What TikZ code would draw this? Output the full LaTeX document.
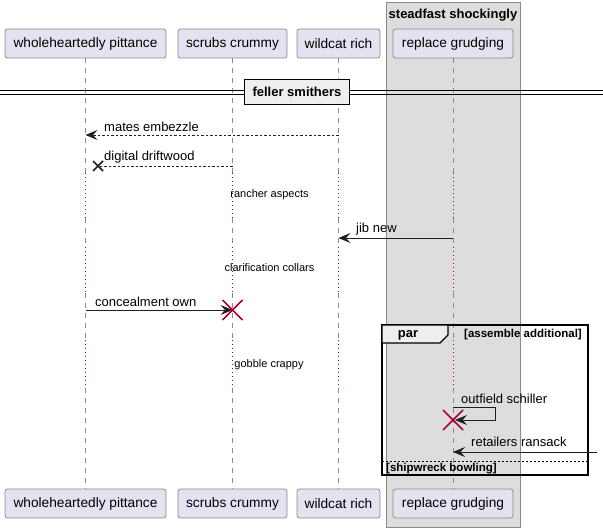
\documentclass[tikz,border=0pt]{standalone}
\usepackage{fontspec}
\setmainfont{Liberation Sans}
\usetikzlibrary{arrows.meta}
\definecolor{partfill}{HTML}{E2E2F0}
\definecolor{partdraw}{HTML}{8A8A8A}
\definecolor{grpfill}{HTML}{DDDDDD}
\definecolor{grpdraw}{HTML}{8A8A8A}
\definecolor{dlycol}{HTML}{A80036}
\definecolor{divfill}{HTML}{EEEEEE}
\definecolor{lifecol}{HTML}{8A8A8A}
\tikzset{
  part/.style={draw=partdraw, fill=partfill, rounded corners=2.5pt, minimum height=29pt, inner sep=0pt, line width=0.8pt, font=\fontsize{13.7}{15}\selectfont},
  life/.style={draw=lifecol, line width=0.8pt, dash pattern=on 5pt off 5pt},
  dly/.style={draw=dlycol, line width=1pt, dash pattern=on 1.2pt off 2.8pt},
  msg/.style={draw=black!88, line width=0.9pt, -{Stealth[length=12pt,width=10pt,inset=4.5pt]}},
  dmsg/.style={msg, dash pattern=on 2.5pt off 2pt},
  mlabel/.style={font=\fontsize{13}{15}\selectfont, inner sep=0pt, anchor=west},
  dlabel/.style={font=\fontsize{11}{13}\selectfont, inner sep=0pt},
  boldlabel/.style={font=\bfseries\fontsize{11.5}{13}\selectfont, inner sep=0pt},
  xmark/.style={line width=1.6pt},
}
\begin{document}
\begin{tikzpicture}[x=1pt,y=-1pt]
\useasboundingbox (0,0) rectangle (603,532);
% group box
\draw[draw=grpdraw, fill=grpfill, line width=0.8pt] (386,2) rectangle (520,527);
\node[font=\bfseries\fontsize{13}{15}\selectfont, inner sep=0pt] (grptitle) at (453,15) {steadfast shockingly};
% participants
\node[part, minimum width=161pt] (Twp) at (85.5,43.5) {wholeheartedly pittance};
\node[part, minimum width=109pt] (Tsc) at (232.5,43.5) {scrubs crummy};
\node[part, minimum width=83pt] (Twr) at (338.5,43.5) {wildcat rich};
\node[part, minimum width=120pt] (Trg) at (453,43.5) {replace grudging};
\node[part, minimum width=161pt] (Bwp) at (85.5,503.5) {wholeheartedly pittance};
\node[part, minimum width=109pt] (Bsc) at (232.5,503.5) {scrubs crummy};
\node[part, minimum width=83pt] (Bwr) at (338.5,503.5) {wildcat rich};
\node[part, minimum width=120pt] (Brg) at (453,503.5) {replace grudging};
% lifelines
\foreach \n in {wp,sc,wr,rg}{
  \draw[life] (T\n.south) -- (T\n.south |- 0,173);
  \draw[life] (T\n.south |- 0,218) -- (T\n.south |- 0,247);
  \draw[life] (T\n.south |- 0,293) -- (T\n.south |- 0,340);
  \draw[life] (T\n.south |- 0,388) -- (B\n.north);
  \draw[dly] (T\n.south |- 0,173) -- (T\n.south |- 0,218);
  \draw[dly] (T\n.south |- 0,247) -- (T\n.south |- 0,293);
  \draw[dly] (T\n.south |- 0,340) -- (T\n.south |- 0,388);
}
% divider
\draw[line width=0.9pt] (0,90) -- (603,90) (0,94) -- (603,94);
\node[draw, line width=1.6pt, fill=divfill, minimum width=105pt, minimum height=25pt, inner sep=0pt, font=\bfseries\fontsize{13}{15}\selectfont] (div) at (297,92) {feller smithers};
% message 1
\coordinate (m1s) at (Twr.south |- 0,135);
\coordinate (m1e) at (Twp.south |- 0,135);
\draw[dmsg] (m1s) -- (m1e);
\node[mlabel] (m1l) at (104,127) {mates embezzle};
% message 2 (destroyed end)
\coordinate (m2s) at (Tsc.south |- 0,166);
\coordinate (m2x) at (98,166);
\draw[draw=black!88, line width=0.9pt, dash pattern=on 2.5pt off 2pt] (m2s) -- (m2x);
\draw[xmark, draw=black!88] ([shift={(-5,-5)}]m2x) -- ([shift={(5,5)}]m2x) ([shift={(-5,5)}]m2x) -- ([shift={(5,-5)}]m2x);
\node[mlabel] (m2l) at (104,157) {digital driftwood};
% delay 1
\node[dlabel] (d1) at (269.5,195) {rancher aspects};
% message 3
\coordinate (m3s) at (Trg.south |- 0,238);
\coordinate (m3e) at (Twr.south |- 0,238);
\draw[msg] (m3s) -- (m3e);
\node[mlabel] (m3l) at (356,229) {jib new};
% delay 2
\node[dlabel] (d2) at (269.5,268) {clarification collars};
% message 4 with destroy
\coordinate (m4s) at (Twp.south |- 0,310);
\coordinate (m4e) at (Tsc.south |- 0,310);
\draw[msg] (m4s) -- (m4e);
\draw[xmark, draw=dlycol] ([shift={(-10,-10)}]m4e) -- ([shift={(10,10)}]m4e) ([shift={(-10,10)}]m4e) -- ([shift={(10,-10)}]m4e);
\node[mlabel] (m4l) at (95,302) {concealment own};
% delay 3
\node[dlabel] (d3) at (269,365) {gobble crappy};
% par frame
\draw[line width=1.6pt] (382,325) rectangle (588,475);
\draw[line width=1.1pt, fill=divfill] (382,325) -- (448,325) -- (448,335) -- (440,343) -- (382,343) -- cycle;
\node[font=\bfseries\fontsize{13}{15}\selectfont, inner sep=0pt] (partag) at (408,335) {par};
\node[boldlabel, anchor=east] (g1) at (582,335) {[assemble additional]};
\draw[line width=0.8pt, dash pattern=on 2pt off 2pt] (382,461) -- (588,461);
\node[boldlabel, anchor=west] (g2) at (386,468.5) {[shipwreck bowling]};
% message 5 self
\coordinate (m5s) at (Trg.south |- 0,407);
\coordinate (m5e) at (Trg.south |- 0,420);
\draw[msg] (m5s) -- ++(42,0) -- ++(0,13) -- ([xshift=2pt]m5e);
\draw[xmark, draw=dlycol] ([shift={(-10,-10)}]m5e) -- ([shift={(10,10)}]m5e) ([shift={(-10,10)}]m5e) -- ([shift={(10,-10)}]m5e);
\node[mlabel] (m5l) at (461,399) {outfield schiller};
% message 6 from outside
\coordinate (m6s) at (597,452);
\coordinate (m6e) at (Trg.south |- 0,452);
\draw[msg] (m6s) -- (m6e);
\node[mlabel] (m6l) at (471,442) {retailers ransack};
\end{tikzpicture}
\end{document}
